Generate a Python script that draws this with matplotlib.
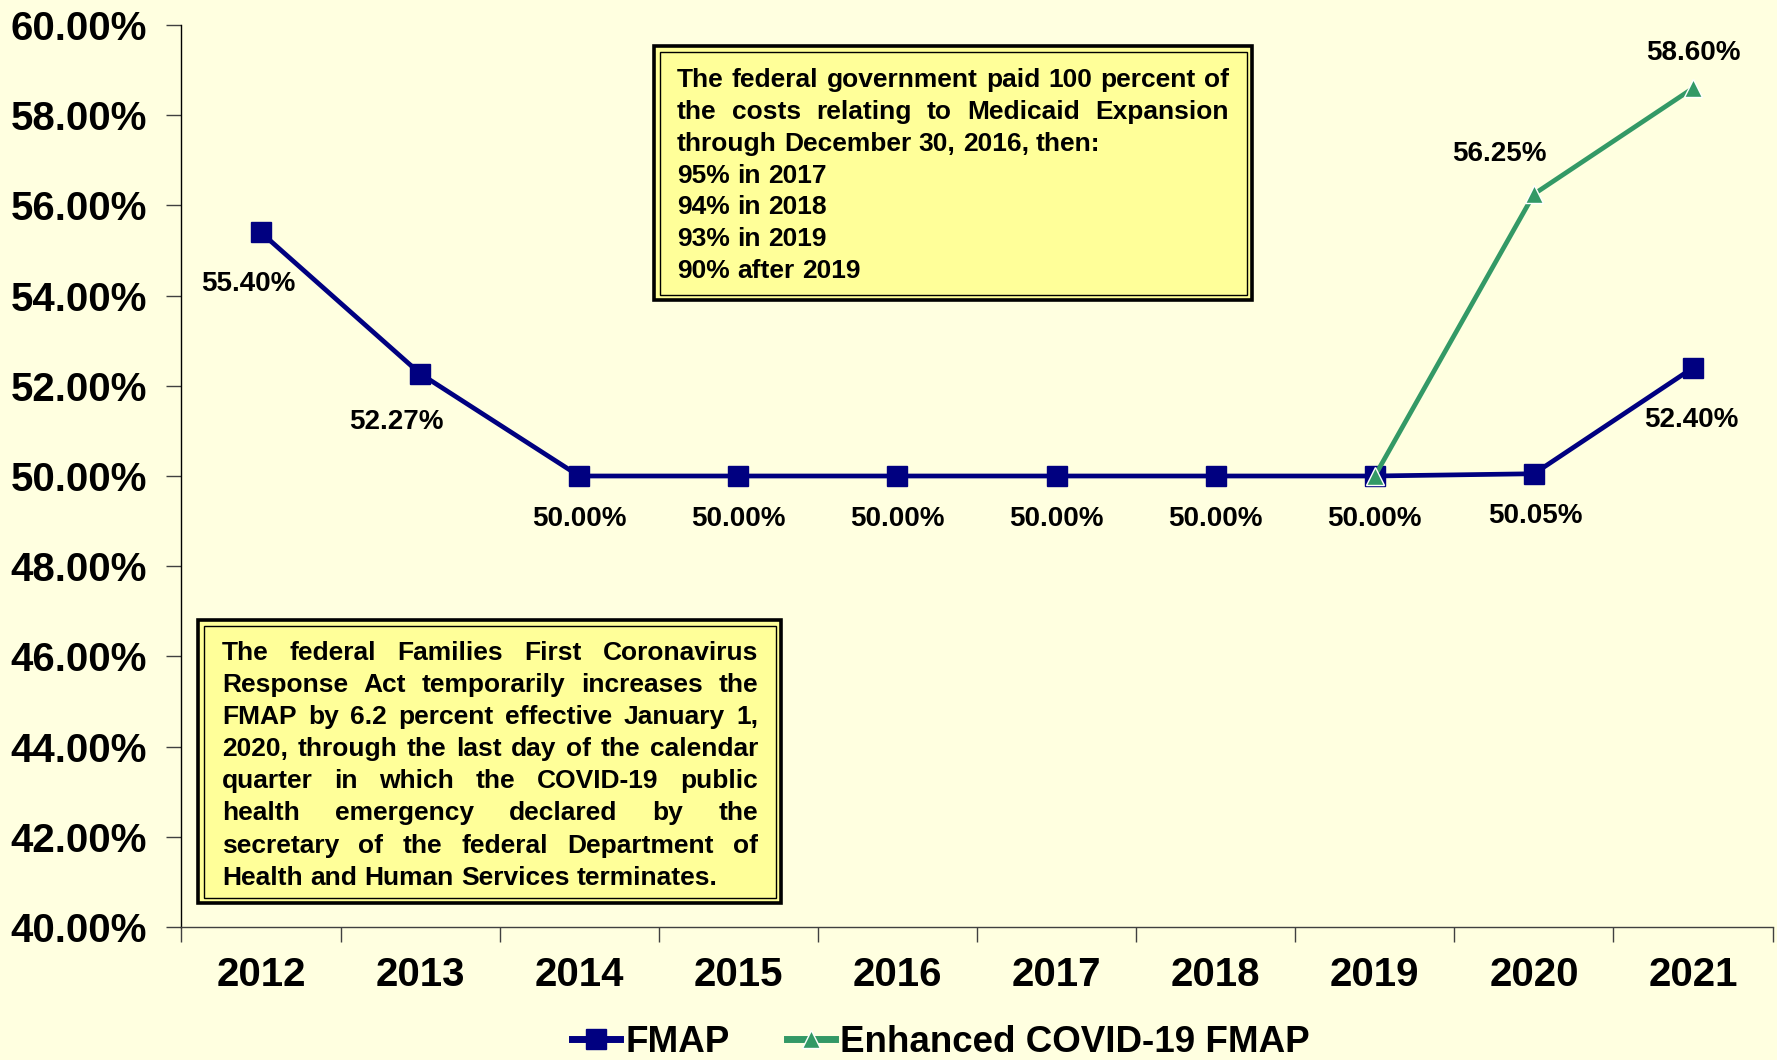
import matplotlib
matplotlib.use("Agg")
import matplotlib.pyplot as plt
import numpy as np
from matplotlib import font_manager
from matplotlib.patches import Rectangle
from matplotlib.ticker import FixedLocator, NullFormatter, FixedFormatter

# data
years = ["2012", "2013", "2014", "2015", "2016", "2017", "2018", "2019", "2020", "2021"]
fmap = [55.40, 52.27, 50.00, 50.00, 50.00, 50.00, 50.00, 50.00, 50.05, 52.40]
enhanced = [np.nan, np.nan, np.nan, np.nan, np.nan, np.nan, np.nan, 50.00, 56.25, 58.60]
y_ticks = [40, 42, 44, 46, 48, 50, 52, 54, 56, 58, 60]

box_top_lines = ["The federal government paid 100 percent of",
                 "the costs relating to Medicaid Expansion",
                 "through December 30, 2016, then:",
                 "95% in 2017",
                 "94% in 2018",
                 "93% in 2019",
                 "90% after 2019"]
box_top_justify = [True, True, False, False, False, False, False]

box_low_lines = ["The federal Families First Coronavirus",
                 "Response Act temporarily increases the",
                 "FMAP by 6.2 percent effective January 1,",
                 "2020, through the last day of the calendar",
                 "quarter in which the COVID-19 public",
                 "health emergency declared by the",
                 "secretary of the federal Department of",
                 "Health and Human Services terminates."]
box_low_justify = [True] * 7 + [False]

BG = "#FFFFE0"
BOX = "#FFFF99"
NAVY = "#000080"
GREEN = "#339966"

try:
    font_manager.findfont("Liberation Sans Narrow", fallback_to_default=False)
    NARROW = ["Liberation Sans Narrow", "Liberation Sans"]
    big = 35
    legsize = 31
except Exception:
    NARROW = ["Liberation Sans"]
    big = 29
    legsize = 26.5
plt.rcParams['font.family'] = ["Liberation Sans", "DejaVu Sans"]
plt.rcParams['font.weight'] = 'bold'

W, H = 1777, 1060
fig = plt.figure(figsize=(W / 100, H / 100), dpi=100, facecolor=BG)
ax = fig.add_axes([181.4 / W, 1 - 927 / H, (1772.6 - 181.4) / W, (927 - 25) / H])
ax.set_facecolor(BG)

x = np.arange(len(years)) + 0.5
ax.plot(x, fmap, color=NAVY, lw=3.4, marker='s', ms=14, mfc=NAVY, mec=NAVY,
        label="FMAP", zorder=3, clip_on=False)
ax.plot(x, enhanced, color=GREEN, lw=3.4, marker='^', ms=13, mfc=GREEN, mec='white',
        mew=1.0, label="Enhanced COVID-19 FMAP", zorder=4, clip_on=False)

ax.set_xlim(0, len(years))
ax.set_ylim(40, 60)
ax.set_yticks(y_ticks)
ax.set_yticklabels([f"{v:.2f}%" for v in y_ticks], family=NARROW, fontsize=big, fontweight='bold')
ax.xaxis.set_major_locator(FixedLocator(np.arange(len(years) + 1)))
ax.xaxis.set_major_formatter(NullFormatter())
ax.xaxis.set_minor_locator(FixedLocator(x))
ax.xaxis.set_minor_formatter(FixedFormatter(years))
ax.tick_params(axis='x', which='major', length=11, width=1, color='#404040', direction='out')
ax.tick_params(axis='x', which='minor', length=0, pad=21)
ax.tick_params(axis='y', length=11, width=1, color='#404040', pad=13.5)
for lab in ax.xaxis.get_minorticklabels():
    lab.set_family(NARROW)
    lab.set_fontsize(big)
    lab.set_fontweight('bold')
for s in ['top', 'right']:
    ax.spines[s].set_visible(False)
ax.spines['left'].set_color('black')
ax.spines['bottom'].set_color('#404040')
ax.spines['left'].set_linewidth(1)
ax.spines['bottom'].set_linewidth(1)

# data labels (offsets in pixels, cap-centre relative to the point)
fmap_off = [(-13, -49), (-24, -45), (0, -40), (0, -40), (0, -40), (0, -40), (0, -40), (0, -40), (1, -39), (-2, -49)]
enh_off = {8: (-35, 43), 9: (0, 38)}
cap_half = 20 * 100 / 72 * 0.716 / 2
for i, v in enumerate(fmap):
    dx, dy = fmap_off[i]
    ax.annotate(f"{v:.2f}%", (x[i], v), xytext=(dx, dy - cap_half), textcoords='offset pixels',
                ha='center', va='baseline', fontsize=20, fontweight='bold')
for i, (dx, dy) in enh_off.items():
    ax.annotate(f"{enhanced[i]:.2f}%", (x[i], enhanced[i]), xytext=(dx, dy - cap_half),
                textcoords='offset pixels', ha='center', va='baseline', fontsize=20, fontweight='bold')


def px(xp, yp):
    return xp / W, 1 - yp / H


def note_box(x0, y0, x1, y1, lines, justify, tx0, tx1, first_center, step, size=19):
    fig.patches.append(Rectangle(px(x0, y1), (x1 - x0) / W, (y1 - y0) / H, transform=fig.transFigure,
                                 facecolor=BOX, edgecolor='black', lw=2.6, zorder=5))
    ins = 5.5
    fig.patches.append(Rectangle(px(x0 + ins, y1 - ins), (x1 - x0 - 2 * ins) / W, (y1 - y0 - 2 * ins) / H,
                                 transform=fig.transFigure, facecolor='none', edgecolor='black',
                                 lw=1.0, zorder=6))
    r = fig.canvas.get_renderer()
    half = size * 100 / 72 * 0.716 / 2
    for k, (line, just) in enumerate(zip(lines, justify)):
        yb = first_center + k * step + half
        words = line.split()
        ts = [fig.text(0, 0, w, fontsize=size, fontweight='bold', va='baseline', ha='left', zorder=7)
              for w in words]
        ws = [t.get_window_extent(r).width for t in ts]
        if just and len(words) > 1:
            gap = (tx1 - tx0 - sum(ws)) / (len(words) - 1)
        else:
            gap = size * 100 / 72 * 0.278
        xc = tx0
        for t, w in zip(ts, ws):
            t.set_position(px(xc, yb))
            xc += w + gap


note_box(654, 46, 1252, 300, box_top_lines, box_top_justify, 677, 1229, 78, 31.7)
note_box(198, 620, 781, 903, box_low_lines, box_low_justify, 222, 758, 650.5, 32.1)

h, l = ax.get_legend_handles_labels()
leg = fig.legend(h, l, loc='lower left', bbox_to_anchor=(554 / W, -0.0175), frameon=False,
                 ncol=2, prop={'family': NARROW, 'weight': 'bold', 'size': legsize},
                 handlelength=1.3, handletextpad=0.15, columnspacing=1.55, borderpad=0,
                 markerscale=1.0)
for ln in leg.get_lines():
    ln.set_linewidth(5)

fig.savefig("out.png", dpi=100, facecolor=BG)
